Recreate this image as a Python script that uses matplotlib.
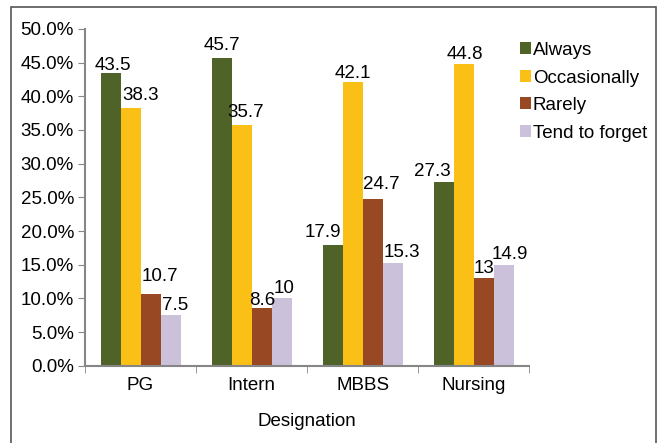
import numpy as np
import matplotlib.pyplot as plt
from matplotlib.patches import Rectangle
from matplotlib.ticker import FuncFormatter

plt.rcParams['font.family'] = ['Liberation Sans', 'DejaVu Sans']

groups = ['PG', 'Intern', 'MBBS', 'Nursing']
series = ['Always', 'Occasionally', 'Rarely', 'Tend to forget']
always = [43.5, 45.7, 17.9, 27.3]
occasionally = [38.3, 35.7, 42.1, 44.8]
rarely = [10.7, 8.6, 24.7, 13]
forget = [7.5, 10, 15.3, 14.9]
labels = [['43.5', '45.7', '17.9', '27.3'],
          ['38.3', '35.7', '42.1', '44.8'],
          ['10.7', '8.6', '24.7', '13'],
          ['7.5', '10', '15.3', '14.9']]
colors = ['#4f6228', '#fac015', '#984823', '#ccc1da']

# label nudges in pixels (dx, dy) so neighbouring labels don't collide
nudges = [[(2, 3), (0, 8), (-10, 8), (-11, 6)],
          [(10, 8), (4, 8), (0, 4), (1, 5)],
          [(9, 13), (1, 3), (9, 10), (0, 5)],
          [(5, 5), (3, 5), (9, 6), (6, 6)]]

fig = plt.figure(figsize=(6.59, 4.43), dpi=100)
ax = fig.add_axes([0.129, 0.174, 0.674, 0.761])

x = np.arange(len(groups))
w = 0.18
for i, vals in enumerate([always, occasionally, rarely, forget]):
    pos = x + (i - 1.5) * w
    ax.bar(pos, vals, width=w, color=colors[i], label=series[i])
    for p, v, t, d in zip(pos, vals, labels[i], nudges[i]):
        ax.annotate(t, (p, v), xytext=d, textcoords='offset pixels',
                    ha='center', va='baseline', fontsize=13.5)

ax.set_xlim(-0.5, len(groups) - 0.5)
ax.set_ylim(0, 50)
ax.set_yticks(np.arange(0, 50.1, 5))
ax.yaxis.set_major_formatter(FuncFormatter(lambda v, _: f'{v:.1f}%'))
ax.set_xticks(x)
ax.set_xticklabels(groups)
ax.set_xticks(np.arange(-0.5, len(groups), 1), minor=True)
ax.tick_params(axis='x', which='major', length=0, pad=8, labelsize=13.5)
ax.tick_params(axis='x', which='minor', length=5, color='#868686', direction='out')
ax.tick_params(axis='y', length=5, color='#868686', labelsize=13.5, pad=3)
for s in ['top', 'right']:
    ax.spines[s].set_visible(False)
for s in ['left', 'bottom']:
    ax.spines[s].set_color('#868686')
    ax.spines[s].set_linewidth(1.5)
ax.set_xlabel('Designation', fontsize=13.5, labelpad=14)

fig.legend(loc='upper left', bbox_to_anchor=(0.777, 0.922), frameon=False,
           fontsize=13.5, handlelength=0.6, handleheight=0.6,
           handletextpad=0.1, labelspacing=0.56, borderaxespad=0)

fig.patches.append(Rectangle((11 / 659, -0.1), 645 / 659, 1.1 - 7 / 443,
                             transform=fig.transFigure, fill=False,
                             edgecolor='#555555', linewidth=1.2))

fig.savefig('out.png', dpi=100)
